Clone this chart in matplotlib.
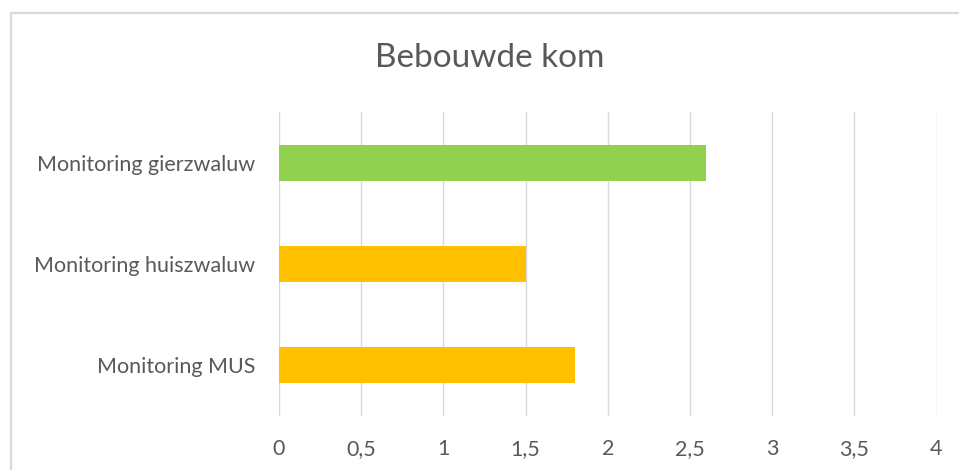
import matplotlib.pyplot as plt
from matplotlib.patches import Rectangle

categories = ["Monitoring MUS", "Monitoring huiszwaluw", "Monitoring gierzwaluw"]
values = [1.8, 1.5, 2.6]
colors = ["#FFC000", "#FFC000", "#92D050"]
ticks = [0, 0.5, 1, 1.5, 2, 2.5, 3, 3.5, 4]
tick_labels = ["0", "0,5", "1", "1,5", "2", "2,5", "3", "3,5", "4"]

plt.rcParams['font.family'] = ['Lato', 'DejaVu Sans']
text_color = "#595959"
grid_color = "#d9d9d9"

fig = plt.figure(figsize=(9.59, 4.70), dpi=100)
ax = fig.add_axes([279 / 959, 1 - 416 / 470, (936.5 - 279) / 959, (416 - 112) / 470])

ax.barh(range(len(categories)), values, height=0.355, color=colors, zorder=3)
ax.set_xlim(0, 4)
ax.set_ylim(-0.5, len(categories) - 0.5)
ax.set_yticks(range(len(categories)))
ax.set_yticklabels(categories, fontsize=15.5, color=text_color)
ax.set_xticks(ticks)
ax.set_xticklabels(tick_labels, fontsize=15.5, color=text_color)
ax.tick_params(axis='both', length=0)
ax.tick_params(axis='x', pad=16.5)
ax.tick_params(axis='y', pad=17)
ax.grid(axis='x', color=grid_color, linewidth=1, zorder=0)
for s in ax.spines.values():
    s.set_visible(False)

fig.text(490 / 959, 1 - 58 / 470, "Bebouwde kom", ha='center', va='center',
         fontsize=24, color=text_color)

# chart frame
fig.patches.append(Rectangle((10.5 / 959, -0.1), 1.1, 1 - 13 / 470 + 0.1,
                             transform=fig.transFigure, fill=False,
                             edgecolor=grid_color, linewidth=1.6))

fig.savefig("out.png", dpi=100)
